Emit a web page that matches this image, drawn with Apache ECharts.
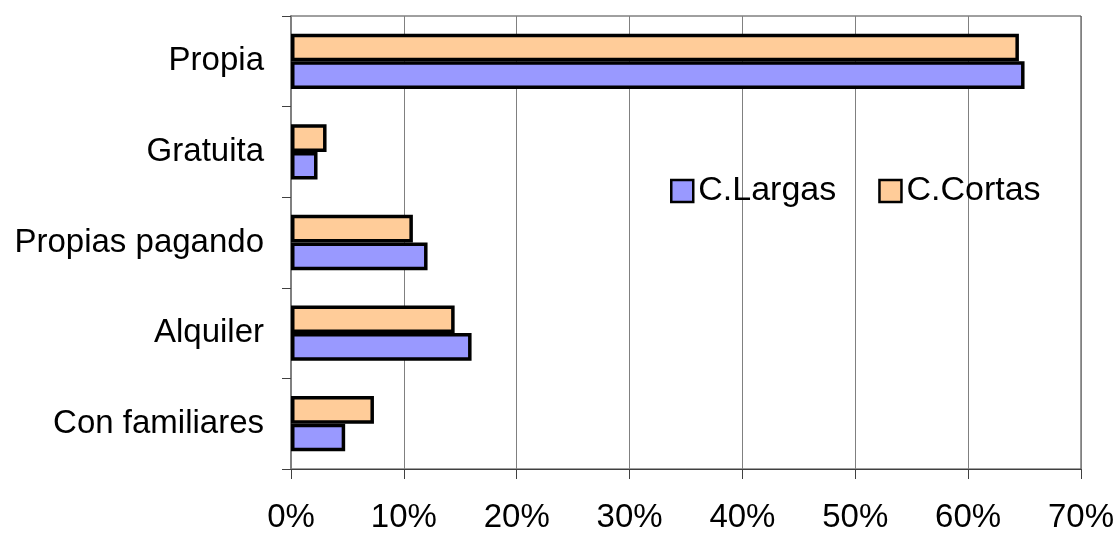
<!DOCTYPE html>
<html>
<head>
<meta charset="utf-8">
<script src="https://cdn.jsdelivr.net/npm/echarts@6/dist/echarts.min.js"></script>
<style>
html,body{margin:0;padding:0;background:#fff;}
#chart{width:1117px;height:534px;}
</style>
</head>
<body>
<div id="chart"></div>
<script>
// Categories bottom-to-top (axis is not inverted)
const categories = ['Con familiares', 'Alquiler', 'Propias pagando', 'Gratuita', 'Propia'];
const largas = [4.8, 16.0, 12.1, 2.35, 65.0];
const cortas = [7.35, 14.5, 10.8, 3.15, 64.5];
const xTicks = [0, 10, 20, 30, 40, 50, 60, 70];

const font = 'Liberation Sans, Arial, sans-serif';
const chart = echarts.init(document.getElementById('chart'), null, {renderer: 'canvas'});
chart.setOption({
  animation: false,
  backgroundColor: '#fff',
  textStyle: {fontFamily: font},
  grid: {
    left: 291, right: 35, top: 16, bottom: 60,
    show: true, borderColor: '#404040', borderWidth: 1, backgroundColor: 'transparent'
  },
  legend: {
    left: 670, top: 174, padding: 0,
    itemWidth: 22, itemHeight: 22, itemGap: 42,
    icon: 'rect',
    data: ['C.Largas', 'C.Cortas'],
    itemStyle: {borderColor: '#000', borderWidth: 2.5},
    textStyle: {fontSize: 34, color: '#000', fontFamily: font}
  },
  xAxis: {
    type: 'value',
    min: xTicks[0], max: xTicks[xTicks.length - 1], interval: 10,
    axisLine: {show: true, lineStyle: {color: '#404040', width: 1}},
    axisTick: {show: true, length: 10, lineStyle: {color: '#404040'}},
    splitLine: {show: true, lineStyle: {color: '#808080', width: 1}},
    axisLabel: {formatter: '{value}%', fontSize: 33, color: '#000', margin: 32, fontFamily: font}
  },
  yAxis: {
    type: 'category',
    data: categories,
    axisLine: {show: true, lineStyle: {color: '#808080', width: 2}},
    axisTick: {show: true, length: 9, lineStyle: {color: '#404040'}},
    axisLabel: {fontSize: 33, color: '#000', margin: 27, fontFamily: font}
  },
  series: [
    {
      name: 'C.Cortas', type: 'bar', data: cortas,
      barGap: '0%', barCategoryGap: '39%',
      itemStyle: {color: '#FFCC99', borderColor: '#000', borderWidth: 3.5}
    },
    {
      name: 'C.Largas', type: 'bar', data: largas,
      barGap: '0%', barCategoryGap: '39%',
      itemStyle: {color: '#9999FF', borderColor: '#000', borderWidth: 3.5}
    }
  ]
});
</script>
</body>
</html>
